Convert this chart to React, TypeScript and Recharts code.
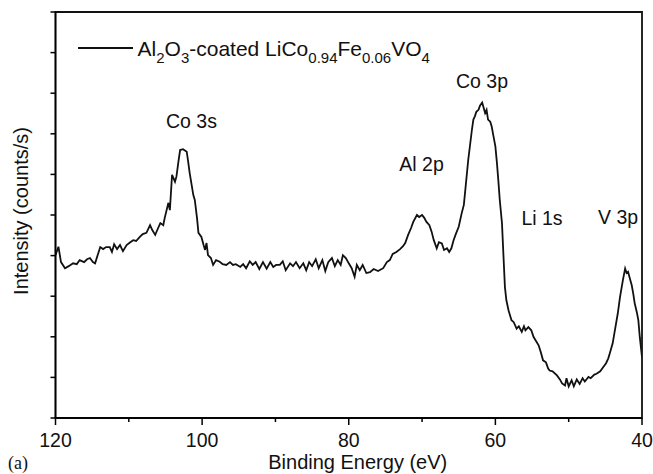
import React from 'react';
import { LineChart, Line, XAxis, YAxis, Legend, ReferenceDot, ReferenceArea, Label } from 'recharts';

const FONT = '"Liberation Sans", Arial, Helvetica, sans-serif';

const bindingEnergy = [
  120.0, 119.6, 119.25, 118.7, 118.2, 117.6, 117.1, 116.7, 116.1, 115.7,
  115.3, 114.9, 114.6, 114.2, 113.9, 113.5, 113.1, 112.6, 112.3, 112.0,
  111.6, 111.2, 110.8, 110.3, 109.8, 109.4, 109.0, 108.5, 108.1, 107.6,
  107.1, 106.8, 106.4, 106.0, 105.7, 105.3, 105.1, 104.6, 104.4, 104.1,
  103.7, 103.5, 103.2, 103.0, 102.6, 102.1, 101.9, 101.7, 101.2, 101.0,
  100.7, 100.5, 100.1, 99.8, 99.6, 99.4, 99.2, 98.8, 98.5, 98.1,
  97.6, 97.2, 96.7, 96.2, 95.8, 95.4, 94.8, 94.4, 94.0, 93.5,
  93.1, 92.7, 92.2, 91.7, 91.2, 90.7, 90.3, 89.9, 89.4, 89.0,
  88.6, 88.0, 87.6, 87.2, 86.7, 86.2, 85.8, 85.4, 85.0, 84.5,
  84.1, 83.6, 83.2, 82.8, 82.3, 81.9, 81.5, 81.1, 80.8, 80.4,
  80.0, 79.6, 79.2, 78.9, 78.5, 78.1, 77.6, 77.1, 76.6, 76.0,
  75.3, 74.8, 74.4, 74.0, 73.5, 73.0, 72.6, 72.3, 71.9, 71.5,
  71.2, 70.7, 70.4, 70.0, 69.7, 69.4, 69.0, 68.7, 68.4, 68.0,
  67.7, 67.3, 67.0, 66.6, 66.3, 66.0, 65.7, 65.4, 65.0, 64.6,
  64.3, 64.1, 63.7, 63.2, 63.0, 62.8, 62.6, 62.3, 62.1, 61.8,
  61.6, 61.4, 61.2, 61.0, 60.7, 60.5, 60.3, 60.0, 59.8, 59.6,
  59.4, 59.1, 58.9, 58.7, 58.5, 58.2, 57.8, 57.5, 57.1, 56.8,
  56.4, 56.1, 55.9, 55.5, 55.1, 54.8, 54.5, 54.1, 53.8, 53.5,
  53.1, 52.8, 52.6, 52.2, 51.6, 51.2, 50.9, 50.5, 50.3, 50.0,
  49.6, 49.3, 48.9, 48.5, 48.1, 47.8, 47.3, 47.0, 46.5, 46.2,
  45.7, 45.3, 44.9, 44.6, 44.4, 44.0, 43.7, 43.3, 43.0, 42.6,
  42.3, 42.1, 41.9, 41.6, 41.4, 41.2, 41.0, 40.7, 40.5, 40.3,
  40.0,
];

const intensity = [
  4.01, 4.22, 3.84, 3.69, 3.74, 3.81, 3.79, 3.89, 3.84, 3.91,
  3.94, 3.84, 3.81, 4.04, 4.21, 4.16, 4.21, 4.21, 4.09, 4.28,
  4.16, 4.26, 4.11, 4.26, 4.33, 4.38, 4.36, 4.46, 4.53, 4.56,
  4.75, 4.63, 4.51, 4.68, 4.80, 4.75, 4.93, 5.30, 5.12, 5.99,
  5.82, 5.95, 6.36, 6.60, 6.62, 6.56, 6.31, 6.04, 5.49, 5.37,
  4.93, 4.56, 4.46, 4.26, 4.14, 4.31, 4.01, 3.94, 3.77, 3.89,
  3.85, 3.79, 3.77, 3.84, 3.77, 3.79, 3.72, 3.79, 3.69, 3.86,
  3.77, 3.84, 3.67, 3.84, 3.68, 3.84, 3.72, 3.77, 3.77, 3.86,
  3.64, 3.81, 3.74, 3.84, 3.69, 3.81, 3.64, 3.84, 3.74, 3.91,
  3.69, 3.89, 3.62, 3.84, 3.94, 3.74, 3.89, 3.77, 4.01, 3.94,
  3.81, 3.69, 3.48, 3.77, 3.64, 3.77, 3.57, 3.59, 3.67, 3.62,
  3.69, 3.84, 3.89, 4.04, 4.09, 4.16, 4.23, 4.31, 4.51, 4.68,
  4.83, 5.00, 4.95, 5.00, 4.93, 4.83, 4.75, 4.59, 4.38, 4.18,
  4.33, 4.30, 4.14, 4.18, 4.09, 4.18, 4.38, 4.53, 4.71, 5.04,
  5.25, 5.62, 6.36, 7.10, 7.35, 7.43, 7.54, 7.59, 7.69, 7.77,
  7.64, 7.51, 7.59, 7.35, 7.30, 7.18, 6.98, 6.69, 6.31, 5.86,
  5.37, 4.80, 4.01, 3.23, 2.90, 2.65, 2.41, 2.36, 2.20, 2.26,
  2.12, 2.26, 2.16, 2.24, 2.16, 2.00, 1.91, 1.79, 1.62, 1.42,
  1.37, 1.22, 1.17, 1.15, 1.05, 0.95, 0.85, 0.80, 0.98, 0.78,
  0.93, 0.78, 0.95, 0.84, 0.98, 0.90, 1.01, 0.98, 1.07, 1.09,
  1.15, 1.25, 1.35, 1.47, 1.59, 1.84, 2.16, 2.58, 2.98, 3.40,
  3.68, 3.57, 3.60, 3.40, 3.27, 3.07, 2.83, 2.60, 2.41, 1.99,
  1.50,
];

const xTicks = [120, 110, 100, 90, 80, 70, 60, 50, 40];
const yTicks = [0, 1, 2, 3, 4, 5, 6, 7, 8, 9, 10];

const peakNames = ['Co 3s', 'Al 2p', 'Co 3p', 'Li 1s', 'V 3p'];
const peakEnergy = [101.45, 70.07, 61.82, 53.64, 43.27];
const peakLevel = [7.31, 6.25, 8.3, 4.93, 4.95];

const seriesName = 'Al2O3-coated LiCo0.94Fe0.06VO4';

const data = bindingEnergy.map((e, i) => ({ energy: e, intensity: intensity[i] }));

const XTick = (props: any) => {
  const { x, y, payload } = props;
  const major = payload.value % 20 === 0;
  return (
    <g>
      <line x1={x} x2={x} y1={y} y2={y + (major ? 7 : 4)} stroke="#000" strokeWidth={1.5} />
      {major && (
        <text x={x} y={y + 29} textAnchor="middle" fontSize={19.5} fontFamily={FONT} fill="#111">
          {payload.value}
        </text>
      )}
    </g>
  );
};

const LegendContent = () => (
  <svg width={420} height={44} style={{ overflow: 'visible', display: 'block' }}>
    <line x1={0} x2={55} y1={20} y2={20} stroke="#111" strokeWidth={1.8} />
    <text x={59.5} y={27.5} fontSize={21} fontFamily={FONT} fill="#111">
      Al<tspan fontSize={15} dy={7}>2</tspan>
      <tspan dy={-7}>O</tspan>
      <tspan fontSize={15} dy={7}>3</tspan>
      <tspan dy={-7}>-coated LiCo</tspan>
      <tspan fontSize={15} dy={7}>0.94</tspan>
      <tspan dy={-7}>Fe</tspan>
      <tspan fontSize={15} dy={7}>0.06</tspan>
      <tspan dy={-7}>VO</tspan>
      <tspan fontSize={15} dy={7}>4</tspan>
    </text>
  </svg>
);

const XTitle = (props: any) => {
  const vb = props.viewBox || { x: 55.5, y: 418, width: 586.5, height: 56 };
  return (
    <g>
      <text x={vb.x + vb.width / 2 + 9} y={469} textAnchor="middle" fontSize={20} fontFamily={FONT} fill="#111">
        Binding Energy (eV)
      </text>
      <text x={8} y={469} fontSize={18} fontFamily='"Liberation Serif", "Times New Roman", serif' fill="#111">
        (a)
      </text>
    </g>
  );
};

const YTitle = () => (
  <text
    x={28}
    y={211}
    transform="rotate(-90, 28, 211)"
    textAnchor="middle"
    fontSize={20}
    fontFamily={FONT}
    fill="#111"
  >
    Intensity (counts/s)
  </text>
);

export default function App() {
  return (
    <div style={{ position: 'absolute', left: 0, top: 0, width: 653, height: 474, background: '#fff' }}>
      <LineChart
        width={653}
        height={474}
        data={data}
        margin={{ top: 12, right: 11, bottom: 0, left: 15.5 }}
      >
        <XAxis
          dataKey="energy"
          type="number"
          domain={[40, 120]}
          reversed
          ticks={xTicks}
          interval={0}
          height={56}
          tickSize={0}
          tickMargin={0}
          tickLine={false}
          tick={<XTick />}
          axisLine={{ stroke: '#000', strokeWidth: 1.5 }}
          allowDataOverflow
        >
          <Label content={<XTitle />} />
        </XAxis>
        <YAxis
          type="number"
          domain={[0, 10]}
          ticks={yTicks}
          interval={0}
          width={40}
          tickSize={5}
          tickFormatter={() => ''}
          tickLine={{ stroke: '#000', strokeWidth: 1.5 }}
          axisLine={{ stroke: '#000', strokeWidth: 1.5 }}
          allowDataOverflow
        >
          <Label content={<YTitle />} />
        </YAxis>
        <ReferenceArea
          x1={120}
          x2={40}
          y1={0}
          y2={10}
          fill="none"
          fillOpacity={0}
          stroke="#111"
          strokeWidth={1.8}
          ifOverflow="visible"
        />
        <Legend
          verticalAlign="middle"
          layout="horizontal"
          align="center"
          wrapperStyle={{ left: 78, top: 28, width: 420, height: 44 }}
          content={<LegendContent />}
        />
        <Line
          type="linear"
          dataKey="intensity"
          name={seriesName}
          stroke="#111"
          strokeWidth={1.8}
          dot={false}
          isAnimationActive={false}
        />
        {peakNames.map((name, i) => (
          <ReferenceDot
            key={name}
            x={peakEnergy[i]}
            y={peakLevel[i]}
            r={0}
            fill="none"
            stroke="none"
            label={{ value: name, position: 'center', fontSize: 19.5, fill: '#111', fontFamily: FONT }}
          />
        ))}
      </LineChart>
    </div>
  );
}
